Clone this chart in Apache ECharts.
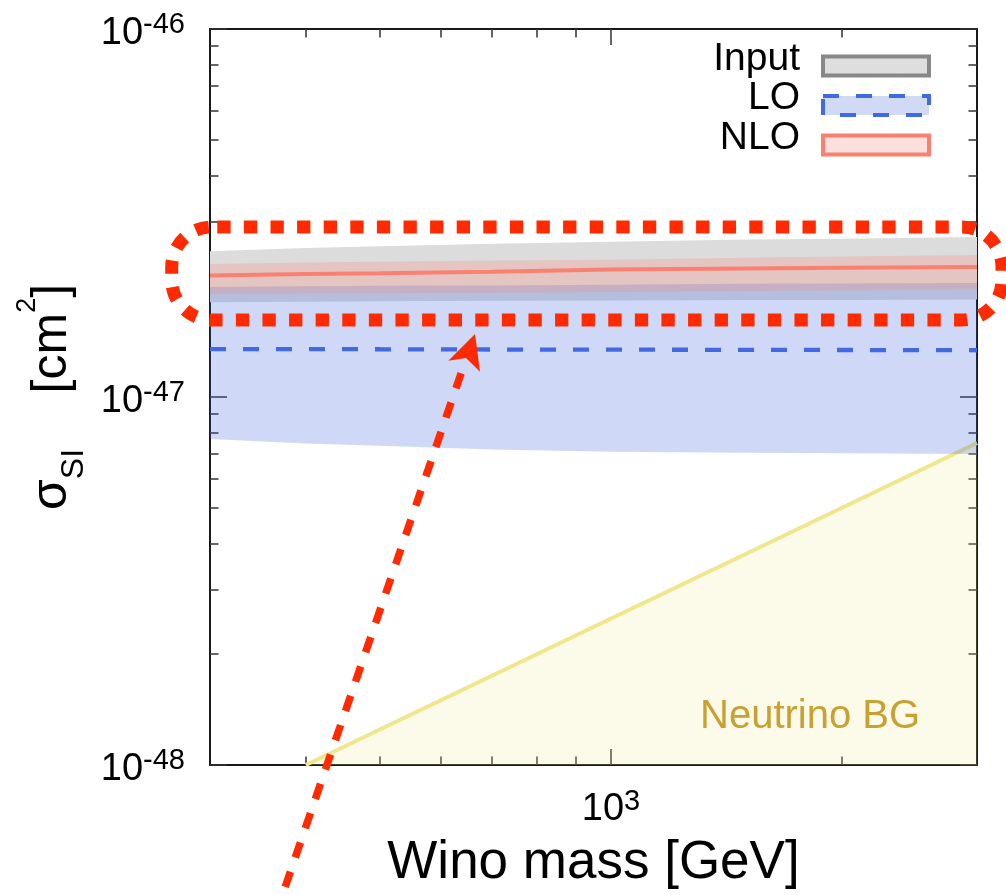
<!DOCTYPE html>
<html>
<head>
<meta charset="utf-8">
<script src="https://cdn.jsdelivr.net/npm/echarts@6/dist/echarts.min.js"></script>
<style>
  html, body { margin: 0; padding: 0; background: #ffffff; }
  #chart { width: 1006px; height: 895px; }
</style>
</head>
<body>
<div id="chart"></div>
<script>
// Wino mass grid [GeV]
const mass = [300, 400, 500, 700, 1000, 1500, 2000, 3000];

// Cross sections below are in units of 1e-48 cm^2
const SIGMA_UNIT_EXP = -48;

// Input band
const inputUpper = [24.9, 25.4, 25.7, 26.1, 26.4, 26.8, 26.9, 27.2];
const inputLower = [18.1, 18.15, 18.2, 18.25, 18.3, 18.35, 18.35, 18.4];

// LO band and central value
const loUpper = [19.9, 20.0, 20.05, 20.1, 20.2, 20.3, 20.35, 20.4];
const loCentral = [13.5, 13.5, 13.48, 13.46, 13.45, 13.43, 13.42, 13.4];
const loLower = [7.69, 7.48, 7.37, 7.2, 7.1, 7.05, 7.03, 7.0];

// NLO band and central value
const nloUpper = [23.0, 23.2, 23.3, 23.5, 23.6, 23.9, 24.1, 24.3];
const nloCentral = [21.4, 21.6, 21.7, 21.9, 22.2, 22.35, 22.45, 22.55];
const nloLower = [19.05, 19.1, 19.15, 19.2, 19.3, 19.4, 19.5, 19.57];

// Neutrino background floor
const nuMass = [400, 3000];
const nuSigma = [1.0, 7.5];

// Axis ticks
const xMajorTicks = [1000];
const xMinorTicks = [400, 500, 600, 700, 800, 900, 2000];
const yMajorTicks = [1, 10, 100];
const yMinorTicks = [2, 3, 4, 5, 6, 7, 8, 9, 20, 30, 40, 50, 60, 70, 80, 90];

const FONT = '"Liberation Sans", Arial, Helvetica, sans-serif';
const RED = '#ff2a00';

const chart = echarts.init(document.getElementById('chart'), null, { renderer: 'canvas' });

function pairs(xs, ys) { return xs.map((x, i) => [x, ys[i]]); }

function powLabel(expShift) {
  return function (value) {
    const e = Math.round(Math.log10(value)) + expShift;
    return '{b|10}{s|' + e + '}';
  };
}
const powRich = {
  b: { fontSize: 38, lineHeight: 46, fontFamily: FONT, color: '#000' },
  s: { fontSize: 29, lineHeight: 20, verticalAlign: 'top', fontFamily: FONT, color: '#000' }
};

function bandSeries(name, upper, lower, fill, z) {
  return {
    type: 'custom',
    name: name,
    z: z,
    silent: true,
    clip: true,
    xAxisIndex: 0,
    yAxisIndex: 0,
    itemStyle: { color: fill },
    data: [[mass[0], upper[0]]],
    renderItem: function (params, api) {
      const pts = [];
      for (let i = 0; i < mass.length; i++) pts.push(api.coord([mass[i], upper[i]]));
      for (let i = mass.length - 1; i >= 0; i--) pts.push(api.coord([mass[i], lower[i]]));
      return { type: 'polygon', shape: { points: pts }, style: { fill: fill } };
    }
  };
}

const frameLine = { show: true, onZero: false, lineStyle: { color: '#1a1a1a', width: 2 } };
const tickStyle = { color: '#333', width: 1.5 };

function xAxisDef(position, ticks, len, showLine, withLabel) {
  const ax = {
    type: 'log', min: 300, max: 3000, position: position,
    axisLine: showLine ? frameLine : { show: false },
    axisTick: { show: true, inside: true, length: len, customValues: ticks, lineStyle: tickStyle },
    axisLabel: { show: false },
    splitLine: { show: false },
    minorTick: { show: false }
  };
  if (withLabel) {
    ax.axisLabel = { show: true, customValues: xMajorTicks, margin: 22, formatter: powLabel(0), rich: powRich };
    ax.name = 'Wino mass [GeV]';
    ax.nameLocation = 'middle';
    ax.nameGap = 72;
    ax.nameTextStyle = { fontSize: 53, fontFamily: FONT, color: '#000' };
  }
  return ax;
}

function yAxisDef(position, ticks, len, showLine, withLabel) {
  const ax = {
    type: 'log', min: 1, max: 100, position: position,
    axisLine: showLine ? frameLine : { show: false },
    axisTick: { show: true, inside: true, length: len, customValues: ticks, lineStyle: tickStyle },
    axisLabel: { show: false },
    splitLine: { show: false },
    minorTick: { show: false }
  };
  if (withLabel) {
    ax.axisLabel = { show: true, customValues: yMajorTicks, margin: 25, padding: [9, 0, 0, 0],
                     formatter: powLabel(SIGMA_UNIT_EXP), rich: powRich };
    ax.name = '{m|σ}{sub|SI}{m|    [cm}{sup|2}{m|]}';
    ax.nameLocation = 'middle';
    ax.nameRotate = 90;
    ax.nameGap = 117;
    ax.nameTextStyle = {
      rich: {
        m: { fontSize: 50, lineHeight: 76, fontFamily: FONT, color: '#000' },
        sub: { fontSize: 32, lineHeight: 32, verticalAlign: 'bottom', fontFamily: FONT, color: '#000' },
        sup: { fontSize: 27, lineHeight: 36, verticalAlign: 'top', fontFamily: FONT, color: '#000' }
      }
    };
  }
  return ax;
}

const option = {
  animation: false,
  backgroundColor: '#ffffff',
  grid: { left: 210, right: 29, top: 29, bottom: 129, containLabel: false },
  xAxis: [
    xAxisDef('bottom', xMajorTicks, 16, true, true),
    xAxisDef('bottom', xMinorTicks, 8.5, false, false),
    xAxisDef('top', xMajorTicks, 16, true, false),
    xAxisDef('top', xMinorTicks, 8.5, false, false)
  ],
  yAxis: [
    yAxisDef('left', yMajorTicks, 17, true, true),
    yAxisDef('left', yMinorTicks, 8.5, false, false),
    yAxisDef('right', yMajorTicks, 17, true, false),
    yAxisDef('right', yMinorTicks, 8.5, false, false)
  ],
  legend: {
    orient: 'vertical',
    right: 75,
    top: 39.5,
    padding: 0,
    align: 'right',
    icon: 'rect',
    itemWidth: 106,
    itemHeight: 19,
    itemGap: 0.5,
    selectedMode: false,
    formatter: function (name) { return '{t|' + name + '}'; },
    textStyle: {
      fontSize: 39, fontFamily: FONT, color: '#000',
      rich: { t: { fontSize: 39, fontFamily: FONT, color: '#000', padding: [0, 18, 14, 0] } }
    },
    data: [
      { name: 'Input', itemStyle: { color: '#dedede', borderColor: '#888888', borderWidth: 4 } },
      { name: 'LO', itemStyle: { color: '#d0daf5', borderColor: '#4169e1', borderWidth: 4, borderType: [16, 17] } },
      { name: 'NLO', itemStyle: { color: '#fde0dc', borderColor: '#fa8072', borderWidth: 4 } }
    ]
  },
  series: [
    {
      type: 'line', name: 'Neutrino BG', z: 1, xAxisIndex: 0, yAxisIndex: 0,
      data: pairs(nuMass, nuSigma),
      symbol: 'none', showSymbol: false, clip: true, silent: true,
      lineStyle: { color: '#f0e68c', width: 4 },
      areaStyle: { color: 'rgba(240,230,140,0.27)', origin: 'start' }
    },
    bandSeries('Input', inputUpper, inputLower, '#dcdcdc', 2),
    bandSeries('LO', loUpper, loLower, 'rgba(65,105,225,0.25)', 3),
    bandSeries('NLO', nloUpper, nloLower, 'rgba(250,128,114,0.25)', 4),
    {
      type: 'line', name: 'LO central', z: 5, xAxisIndex: 0, yAxisIndex: 0,
      data: pairs(mass, loCentral),
      symbol: 'none', showSymbol: false, clip: true, silent: true,
      lineStyle: { color: '#4169e1', width: 4.3, type: [16, 17] }
    },
    {
      type: 'line', name: 'NLO central', z: 6, xAxisIndex: 0, yAxisIndex: 0,
      data: pairs(mass, nloCentral),
      symbol: 'none', showSymbol: false, clip: true, silent: true,
      lineStyle: { color: '#fa8072', width: 4 }
    }
  ],
  graphic: [
    {
      type: 'text', z: 50, silent: true,
      style: { x: 700, y: 717, text: 'Neutrino BG', font: '40px ' + FONT, fill: '#c9a032',
               textAlign: 'left', textVerticalAlign: 'middle' }
    },
    {
      type: 'rect', z: 100, silent: true,
      shape: { x: 171.7, y: 227, width: 830.3, height: 93, r: 40 },
      style: { fill: 'none', stroke: RED, lineWidth: 13, lineDash: [13.3, 13.3], lineDashOffset: 21 }
    },
    {
      type: 'line', z: 100, silent: true,
      shape: { x1: 466, y1: 359, x2: 279, y2: 905 },
      style: { stroke: RED, lineWidth: 7.5, lineDash: [16, 15], lineDashOffset: 16 }
    },
    {
      type: 'polygon', z: 100, silent: true,
      shape: { points: [[475, 334], [448.3, 360.7], [466, 358], [480, 371.7]] },
      style: { fill: RED }
    }
  ]
};

chart.setOption(option);
</script>
</body>
</html>
